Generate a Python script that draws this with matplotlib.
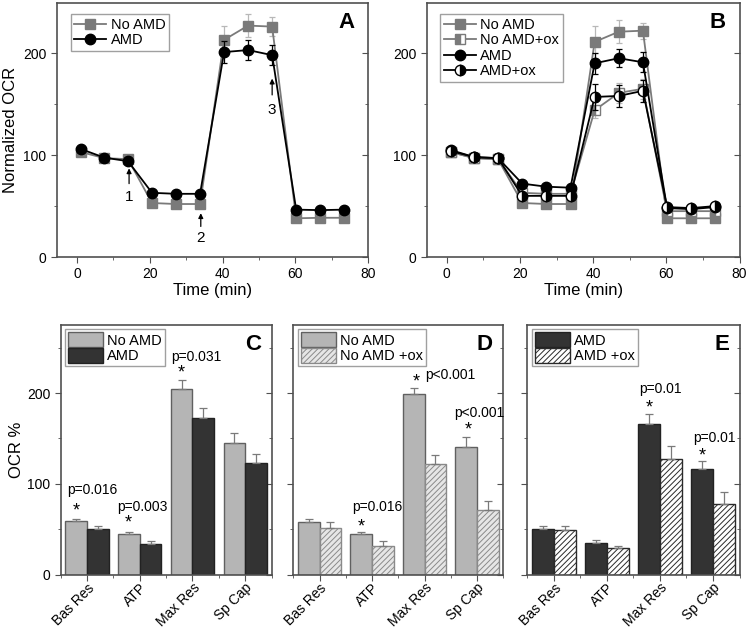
import numpy as np
import matplotlib
matplotlib.use("Agg")
import matplotlib.pyplot as plt
import matplotlib.transforms as mtrans
from matplotlib.ticker import MultipleLocator, FixedLocator

plt.rcParams['font.family'] = ['Liberation Sans', 'DejaVu Sans']
plt.rcParams['hatch.linewidth'] = 0.7

# ---- time course data (panels A, B) ----
times = [1, 7.5, 14, 20.6, 27.2, 33.8, 40.4, 47, 53.6, 60.2, 66.8, 73.4]

a_noamd = [103, 97, 96, 53, 52, 52, 213, 227, 226, 38, 38.5, 38.5]
a_noamd_err = [2, 2, 2, 1.5, 1.5, 1.5, 14, 11, 9, 1.5, 1.5, 1.5]
a_amd = [106, 97.5, 94, 63, 62, 62, 201, 203, 198, 46.5, 46, 46.5]
a_amd_err = [2, 2, 2, 2, 2, 2, 11, 10, 10, 2, 2, 2]

b_noamd = [103, 97, 96, 53, 52, 52, 211, 221, 222, 38, 38, 38]
b_noamd_err = [2, 2, 2, 1.5, 1.5, 1.5, 16, 11, 8, 1.5, 1.5, 1.5]
b_noamd_ox = [103, 97, 96, 63, 62, 62, 144, 161, 165, 45, 45, 45]
b_noamd_ox_err = [2, 2, 2, 2, 2, 2, 8, 10, 10, 2, 2, 2]
b_amd = [105, 98, 97, 72, 69, 68, 190, 195, 191, 48, 47, 49]
b_amd_err = [2, 2, 2, 2, 2, 2, 10, 9, 10, 2, 2, 2]
b_amd_ox = [104, 98, 97, 60, 60, 60, 157, 158, 163, 49, 48, 50]
b_amd_ox_err = [2, 2, 2, 2, 2, 2, 13, 11, 11, 2, 2, 2]

# ---- bar data (panels C, D, E) ----
cats = ["Bas Res", "ATP", "Max Res", "Sp Cap"]
c_noamd = [59, 45, 204, 145]
c_noamd_err = [2.5, 2, 11, 11]
c_amd = [50, 34, 173, 123]
c_amd_err = [3, 2.5, 11, 10]

d_noamd = [58, 44.5, 199, 141]
d_noamd_err = [3, 2, 7, 11]
d_noamd_ox = [51, 31.5, 122, 71]
d_noamd_ox_err = [7, 5, 10, 10]

e_amd = [50, 35, 166, 116]
e_amd_err = [3, 3, 11, 9]
e_amd_ox = [49, 29, 127, 78]
e_amd_ox_err = [4, 3, 15, 13]

GRAY = "#7a7a7a"
LGRAY = "#b8b8b8"
DARK = "#333333"
SPINE = "#505050"

fig = plt.figure(figsize=(7.5, 6.3), dpi=100)


def style_axes(ax, ylabels=True):
    for s in ax.spines.values():
        s.set_color(SPINE)
        s.set_linewidth(1.2)
    ax.tick_params(which='both', direction='out', color=SPINE, labelsize=10,
                   right=False, top=False, labelleft=ylabels)
    ax.tick_params(which='major', length=4)
    ax.tick_params(which='minor', length=2.5)
    # inward ticks on the right side
    sec = ax.secondary_yaxis('right')
    sec.yaxis.set_major_locator(ax.yaxis.get_major_locator())
    sec.yaxis.set_minor_locator(ax.yaxis.get_minor_locator())
    sec.tick_params(which='both', direction='in', color=SPINE, labelright=False)
    sec.tick_params(which='major', length=4)
    sec.tick_params(which='minor', length=2.5)
    sec.spines['right'].set_visible(False)


def line_panel(ax, series, letter):
    for y, err, kw in series:
        ecol = kw.pop('ecolor')
        ax.errorbar(times, y, yerr=err, fmt='none', ecolor=ecol, capsize=2.5,
                    elinewidth=0.9, capthick=0.9)
        ax.plot(times, y, lw=1.3, **kw)
    ax.set_xlim(-5.5, 80)
    ax.set_ylim(0, 249)
    ax.xaxis.set_major_locator(MultipleLocator(20))
    ax.xaxis.set_minor_locator(MultipleLocator(10))
    ax.yaxis.set_major_locator(MultipleLocator(100))
    ax.yaxis.set_minor_locator(MultipleLocator(50))
    ax.set_xlabel("Time (min)", fontsize=12, labelpad=1)
    ax.text(0.955, 0.965, letter, transform=ax.transAxes, ha='right', va='top',
            fontsize=16, fontweight='bold')
    ax.legend(loc='upper left', fontsize=10.5, frameon=True, fancybox=False,
              edgecolor='#888888', borderpad=0.25, labelspacing=0.1,
              handlelength=2.2, handletextpad=0.3, borderaxespad=0.5,
              bbox_to_anchor=(0.02, 0.985))


# Panel A
axA = fig.add_axes([0.076, 0.592, 0.415, 0.403])
line_panel(axA, [
    (a_noamd, a_noamd_err, dict(color=GRAY, ecolor=LGRAY, marker='s', ms=6.5,
                                label="No AMD")),
    (a_amd, a_amd_err, dict(color='black', ecolor='black', marker='o', ms=7.5,
                            label="AMD")),
], "A")
axA.set_ylabel("Normalized OCR", fontsize=12, labelpad=4)
style_axes(axA)
arrows = [(14.3, 87, 72, "1", 59), (34, 43, 30, "2", 19), (53.6, 175, 159, "3", 144)]
for x, tip, tail, lab, ly in arrows:
    axA.annotate("", xy=(x, tip), xytext=(x, tail),
                 arrowprops=dict(arrowstyle='-|>', color='black', lw=0.9,
                                 mutation_scale=7, shrinkA=0, shrinkB=0))
    axA.text(x, ly, lab, ha='center', va='center', fontsize=11)

# Panel B
axB = fig.add_axes([0.569, 0.592, 0.417, 0.403])
line_panel(axB, [
    (b_noamd, b_noamd_err, dict(color=GRAY, ecolor=LGRAY, marker='s', ms=6.5,
                                label="No AMD")),
    (b_noamd_ox, b_noamd_ox_err, dict(color=GRAY, ecolor=LGRAY, marker='s', ms=6.5,
                                      fillstyle='left', markerfacecoloralt='white',
                                      label="No AMD+ox")),
    (b_amd, b_amd_err, dict(color='black', ecolor='black', marker='o', ms=7.5,
                            label="AMD")),
    (b_amd_ox, b_amd_ox_err, dict(color='black', ecolor='black', marker='o', ms=7.5,
                                  fillstyle='right', markerfacecoloralt='white',
                                  label="AMD+ox")),
], "B")
style_axes(axB)

# ---- bar panels ----
w = 0.41
xc = np.arange(len(cats))
shift = mtrans.ScaledTranslation(0.05, 0, fig.dpi_scale_trans)


def bar_panel(rect, v1, e1, v2, e2, st1, st2, labels, letter, ylabels=False):
    ax = fig.add_axes(rect)
    ax.bar(xc - w / 2, v1, w, yerr=[np.zeros(4), e1], capsize=3,
           error_kw=dict(elinewidth=0.9, capthick=0.9, ecolor=GRAY),
           label=labels[0], **st1)
    ax.bar(xc + w / 2, v2, w, yerr=[np.zeros(4), e2], capsize=3,
           error_kw=dict(elinewidth=0.9, capthick=0.9, ecolor=GRAY),
           label=labels[1], **st2)
    ax.set_xlim(-0.5, 3.5)
    ax.set_ylim(0, 275)
    ax.set_xticks(xc)
    ax.set_xticklabels(cats, rotation=45, ha='right', va='top',
                       rotation_mode='anchor', fontsize=9.5)
    for t in ax.get_xticklabels():
        t.set_transform(t.get_transform() + shift)
    ax.xaxis.set_minor_locator(FixedLocator([-0.5, 0.5, 1.5, 2.5, 3.5]))
    ax.yaxis.set_major_locator(MultipleLocator(100))
    ax.yaxis.set_minor_locator(MultipleLocator(50))
    style_axes(ax, ylabels)
    ax.tick_params(axis='x', which='major', pad=0.5)
    ax.text(0.95, 0.965, letter, transform=ax.transAxes, ha='right', va='top',
            fontsize=16, fontweight='bold')
    ax.legend(loc='upper left', fontsize=10.5, frameon=True, fancybox=False,
              edgecolor='#888888', borderpad=0.2, labelspacing=0.05,
              handlelength=2.4, handleheight=1.15, handletextpad=0.3,
              borderaxespad=0.3)
    return ax


st_light = dict(color="#b5b5b5", edgecolor="#606060", linewidth=1.0)
st_dark = dict(color=DARK, edgecolor="#222222", linewidth=1.0)
st_light_h = dict(facecolor="#e6e6e6", edgecolor="#8a8a8a", hatch='//////', linewidth=1.0)
st_dark_h = dict(facecolor="white", edgecolor="#2a2a2a", hatch='//////', linewidth=1.0)

axC = bar_panel([0.081, 0.088, 0.281, 0.396], c_noamd, c_noamd_err, c_amd, c_amd_err,
                st_light, st_dark, ["No AMD", "AMD"], "C", ylabels=True)
axC.set_ylabel("OCR %", fontsize=12, labelpad=2)
axD = bar_panel([0.391, 0.088, 0.28, 0.396], d_noamd, d_noamd_err, d_noamd_ox,
                d_noamd_ox_err, st_light, st_light_h, ["No AMD", "No AMD +ox"], "D")
axE = bar_panel([0.703, 0.088, 0.283, 0.396], e_amd, e_amd_err, e_amd_ox, e_amd_ox_err,
                st_dark, st_dark_h, ["AMD", "AMD +ox"], "E")

# significance marks
pfs = 10
for ax, notes in [
    (axC, [(-0.37, 93, "p=0.016"), (0.58, 74, "p=0.003"), (1.6, 240, "p=0.031")]),
    (axD, [(0.62, 74, "p=0.016"), (2.02, 220, "p<0.001"), (2.57, 178, "p<0.001")]),
    (axE, [(1.6, 204, "p=0.01"), (2.63, 150, "p=0.01")]),
]:
    for x, y, s in notes:
        ax.text(x, y, s, ha='left', va='center', fontsize=pfs)
for ax, stars in [
    (axC, [(-0.2, 70), (0.79, 57), (1.79, 222)]),
    (axD, [(0.8, 52), (1.84, 212), (2.84, 159)]),
    (axE, [(1.79, 184), (2.8, 131)]),
]:
    for x, y in stars:
        ax.text(x, y, "*", ha='center', va='center', fontsize=13)

fig.savefig("out.png", dpi=100)
